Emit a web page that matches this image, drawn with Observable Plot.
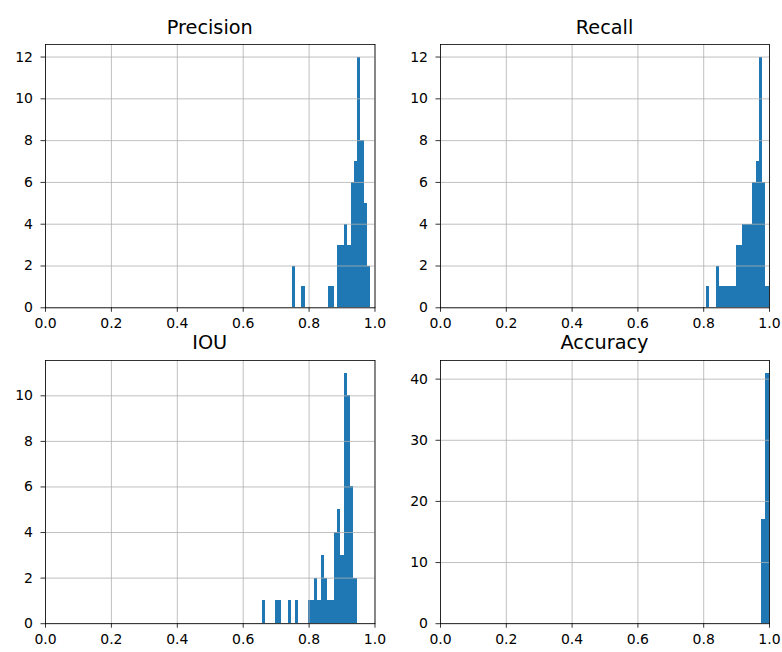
<!DOCTYPE html>
<html>
<head>
<meta charset="utf-8">
<script src="https://cdn.jsdelivr.net/npm/d3@7"></script>
<script src="https://cdn.jsdelivr.net/npm/@observablehq/plot@0.6"></script>
<style>
  html, body { margin: 0; padding: 0; background: #fff; }
  #fig { position: relative; width: 782px; height: 652px; font-family: "DejaVu Sans", sans-serif; }
  .panel { position: absolute; }
  .title { position: absolute; font-size: 19.3px; color: #000; text-align: center; line-height: 1; white-space: nowrap; }
</style>
</head>
<body>
<div id="fig"></div>
<script>
// ---- data ----
const titles = ["Precision", "Recall", "IOU", "Accuracy"];
const xTicks = [0, 0.2, 0.4, 0.6, 0.8, 1.0];

const precisionRange = [0.7485, 0.987];
const precisionCounts = [2,0,0,1,0,0,0,0,0,0,0,1,1,0,3,3,4,3,6,7,12,8,5,2];
const precisionTicks = [0, 2, 4, 6, 8, 10, 12];

const recallRange = [0.809, 0.999];
const recallCounts = [1,0,0,2,1,1,1,1,1,3,3,4,4,4,6,7,12,6,1];
const recallTicks = [0, 2, 4, 6, 8, 10, 12];

const iouRange = [0.658, 0.946];
const iouCounts = [1,0,0,0,1,1,0,0,1,0,1,0,0,0,1,1,2,1,3,2,1,1,4,5,3,11,10,6,2];
const iouTicks = [0, 2, 4, 6, 8, 10];

const accuracyRange = [0.976, 1.0];
const accuracyCounts = [17, 41];
const accuracyTicks = [0, 10, 20, 30, 40];

// ---- layout ----
const panels = [
  {title: titles[0], range: precisionRange, counts: precisionCounts, yTicks: precisionTicks, left: 45, right: 374.5, top: 44, bottom: 307.3},
  {title: titles[1], range: recallRange, counts: recallCounts, yTicks: recallTicks, left: 440, right: 769, top: 44, bottom: 307.3},
  {title: titles[2], range: iouRange, counts: iouCounts, yTicks: iouTicks, left: 45, right: 374.5, top: 359.5, bottom: 622.7},
  {title: titles[3], range: accuracyRange, counts: accuracyCounts, yTicks: accuracyTicks, left: 440, right: 769, top: 359.5, bottom: 622.7}
];

const fig = document.getElementById("fig");
const ml = 44, mr = 12, mt = 8, mb = 30;

for (const p of panels) {
  const n = p.counts.length;
  const [lo, hi] = p.range;
  const w = (hi - lo) / n;
  const bins = p.counts.map((c, i) => ({x1: lo + i * w, x2: lo + (i + 1) * w, y: c})).filter(d => d.y > 0);
  const ymax = d3.max(p.counts) * 1.05;
  const fw = p.right - p.left, fh = p.bottom - p.top;

  const chart = Plot.plot({
    width: fw + ml + mr,
    height: fh + mt + mb,
    marginLeft: ml, marginRight: mr, marginTop: mt, marginBottom: mb,
    style: {fontFamily: "DejaVu Sans, sans-serif", fontSize: "14px", color: "#000", background: "transparent", overflow: "visible"},
    x: {domain: [0, 1]},
    y: {domain: [0, ymax]},
    marks: [
      Plot.rectY(bins, {x1: "x1", x2: "x2", y: "y", fill: "#1f77b4", inset: 0, shapeRendering: "crispEdges"}),
      Plot.gridX(xTicks, {stroke: "#b0b0b0", strokeOpacity: 1, strokeWidth: 0.8}),
      Plot.gridY(p.yTicks, {stroke: "#b0b0b0", strokeOpacity: 1, strokeWidth: 0.8}),
      Plot.frame({stroke: "#000", strokeWidth: 0.8}),
      Plot.axisX({ticks: xTicks, tickFormat: d3.format(".1f"), tickSize: 4.5, tickPadding: 6, label: null, stroke: "#000", strokeWidth: 0.8, fill: "#000"}),
      Plot.axisY({ticks: p.yTicks, tickFormat: d3.format("d"), tickSize: 4.5, tickPadding: 8, label: null, stroke: "#000", strokeWidth: 0.8, fill: "#000"})
    ]
  });
  chart.classList.add("panel");
  chart.style.left = (p.left - ml) + "px";
  chart.style.top = (p.top - mt) + "px";
  fig.appendChild(chart);

  const t = document.createElement("div");
  t.className = "title";
  t.textContent = p.title;
  t.style.left = p.left + "px";
  t.style.width = fw + "px";
  t.style.top = (p.top - 26.3) + "px";
  fig.appendChild(t);
}
</script>
</body>
</html>
